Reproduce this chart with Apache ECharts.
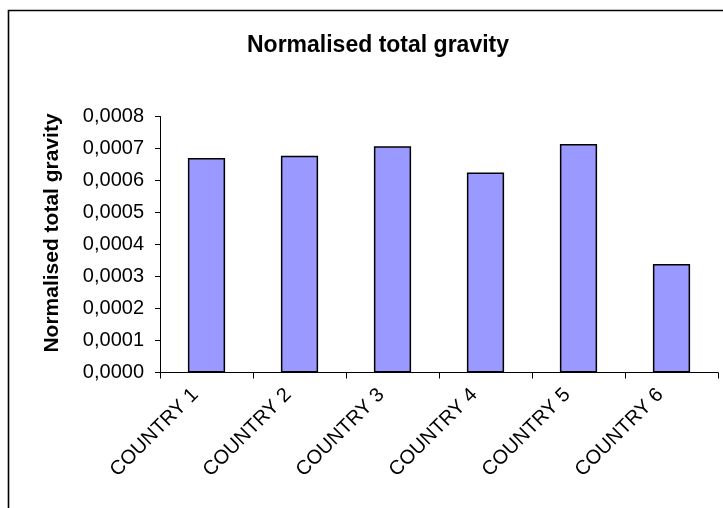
<!DOCTYPE html>
<html>
<head>
<meta charset="utf-8">
<script src="https://cdn.jsdelivr.net/npm/echarts@6/dist/echarts.min.js"></script>
<style>
html,body{margin:0;padding:0;background:#fff;}
#chart{width:723px;height:508px;}
</style>
</head>
<body>
<div id="chart"></div>
<script>
const categories = ["COUNTRY 1", "COUNTRY 2", "COUNTRY 3", "COUNTRY 4", "COUNTRY 5", "COUNTRY 6"];
const gravityValues = [0.000670, 0.000677, 0.000707, 0.000625, 0.000714, 0.000339];
const chartTitle = "Normalised total gravity";
const yAxisTitle = "Normalised total gravity";

const FONT = "'Liberation Sans', Arial, sans-serif";
const chart = echarts.init(document.getElementById('chart'), null, {renderer: 'canvas'});
chart.setOption({
  animation: false,
  backgroundColor: '#ffffff',
  title: {
    text: chartTitle,
    left: 373,
    top: 29,
    textAlign: 'center',
    textStyle: {fontFamily: FONT, fontSize: 23, fontWeight: 'bold', color: '#000'}
  },
  graphic: [{
    type: 'rect',
    shape: {x: 8.5, y: 10.5, width: 900, height: 700},
    style: {fill: 'none', stroke: '#000', lineWidth: 1.6},
    silent: true
  }],
  grid: {left: 160, right: 5, top: 116.5, bottom: 135.5, containLabel: false},
  xAxis: {
    type: 'category',
    data: categories,
    axisLine: {lineStyle: {color: '#000', width: 1}},
    axisTick: {show: true, length: 6, lineStyle: {color: '#000'}},
    axisLabel: {rotate: 45, fontFamily: FONT, fontSize: 20, color: '#000', margin: 8, interval: 0, padding: [0, 16, 0, 0]}
  },
  yAxis: {
    type: 'value',
    min: 0,
    max: 0.0008,
    interval: 0.0001,
    name: yAxisTitle,
    nameLocation: 'middle',
    nameGap: 97,
    nameTextStyle: {fontFamily: FONT, fontSize: 21, fontWeight: 'bold', color: '#000', padding: [0, 0, 0, 23]},
    splitLine: {show: false},
    axisLine: {show: true, lineStyle: {color: '#000', width: 1}},
    axisTick: {show: true, length: 5, lineStyle: {color: '#000'}},
    axisLabel: {
      fontFamily: FONT, fontSize: 20, color: '#000', margin: 16,
      formatter: v => v.toFixed(4).replace('.', ',')
    }
  },
  series: [{
    type: 'bar',
    data: gravityValues,
    barCategoryGap: '60%',
    itemStyle: {color: '#9999ff', borderColor: '#000', borderWidth: 1.5}
  }]
});
</script>
</body>
</html>
